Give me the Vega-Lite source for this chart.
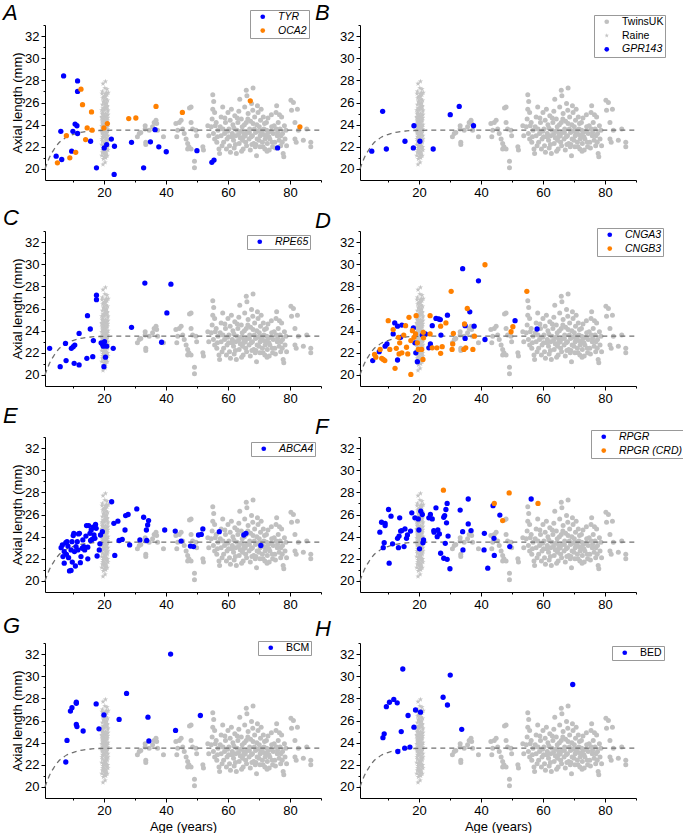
{
"$schema":"https://vega.github.io/schema/vega-lite/v6.json",
"background":"white",
"padding":{"left":3,"top":1,"right":0,"bottom":0},
"autosize":{"type":"pad"},
"datasets":{
"twins":[{"a":30.8,"l":22.9},{"a":31.4,"l":23.2},{"a":31.9,"l":23.3},{"a":33.3,"l":23.9},{"a":33.3,"l":23.6},{"a":33.5,"l":22.4},{"a":33.5,"l":22.2},{"a":34.6,"l":23.5},{"a":35.7,"l":23.8},{"a":36.2,"l":24.2},{"a":36.8,"l":24.4},{"a":37.0,"l":24.1},{"a":37.3,"l":23.5},{"a":39.2,"l":22.9},
{"a":43.2,"l":24.1},{"a":43.8,"l":23.5},{"a":43.5,"l":22.9},{"a":44.3,"l":24.2},{"a":44.9,"l":24.4},{"a":45.4,"l":23.6},{"a":45.9,"l":23.2},{"a":46.5,"l":22.7},{"a":47.0,"l":22.3},{"a":47.4,"l":22.0},{"a":47.6,"l":25.5},{"a":48.1,"l":25.6},{"a":48.1,"l":24.2},{"a":48.6,"l":23.6},{"a":48.1,"l":21.8},{"a":47.0,"l":21.8},{"a":49.2,"l":20.7},{"a":49.2,"l":20.1},{"a":49.7,"l":23.5},{"a":49.9,"l":23.0},
{"a":51.9,"l":22.0},{"a":52.1,"l":21.7},{"a":53.5,"l":23.9},{"a":53.8,"l":23.0},{"a":54.6,"l":23.8},{"a":54.9,"l":24.5},{"a":55.1,"l":25.4},{"a":55.1,"l":26.7},{"a":55.4,"l":26.1},{"a":55.7,"l":25.1},{"a":55.7,"l":22.7},{"a":56.2,"l":24.2},{"a":56.4,"l":22.4},{"a":56.8,"l":23.5},{"a":57.1,"l":21.8},{"a":57.3,"l":21.4},{"a":57.8,"l":24.7},{"a":57.8,"l":23.0},{"a":58.4,"l":23.6},{"a":58.6,"l":22.4},{"a":58.9,"l":23.2},{"a":59.2,"l":24.2},{"a":59.5,"l":21.8},{"a":59.7,"l":22.7},
{"a":60.0,"l":25.1},{"a":60.3,"l":23.6},{"a":60.5,"l":22.1},{"a":60.8,"l":21.5},{"a":61.1,"l":25.4},{"a":61.4,"l":23.2},{"a":61.6,"l":24.0},{"a":61.8,"l":22.6},{"a":62.2,"l":24.8},{"a":62.5,"l":23.0},{"a":62.7,"l":21.4},{"a":62.9,"l":23.5},{"a":63.2,"l":24.2},{"a":63.6,"l":22.3},{"a":63.8,"l":26.3},{"a":64.0,"l":22.8},{"a":64.3,"l":24.5},{"a":64.6,"l":23.8},{"a":64.9,"l":21.8},{"a":65.1,"l":23.2},{"a":65.4,"l":25.6},{"a":65.7,"l":22.4},{"a":65.9,"l":27.1},{"a":65.9,"l":24.2},{"a":66.2,"l":23.3},{"a":66.5,"l":25.0},{"a":66.8,"l":22.7},{"a":67.0,"l":23.6},{"a":67.2,"l":21.7},{"a":67.6,"l":25.9},{"a":67.9,"l":23.0},{"a":68.1,"l":27.3},{"a":68.1,"l":24.1},{"a":68.3,"l":22.3},{"a":68.6,"l":24.7},{"a":68.9,"l":23.3},{"a":69.2,"l":21.2},{"a":69.4,"l":22.7},{"a":69.7,"l":25.1},{"a":70.1,"l":23.8},{"a":70.3,"l":22.0},{"a":70.5,"l":24.4},
{"a":70.8,"l":23.2},{"a":71.1,"l":22.4},{"a":71.4,"l":24.7},{"a":71.6,"l":23.6},{"a":71.9,"l":21.8},{"a":72.2,"l":23.0},{"a":72.4,"l":24.2},{"a":72.7,"l":22.3},{"a":73.0,"l":23.3},{"a":73.3,"l":21.7},{"a":73.5,"l":22.7},{"a":74.1,"l":23.8},{"a":74.4,"l":22.0},{"a":74.6,"l":23.2},{"a":75.1,"l":22.4},{"a":75.5,"l":25.1},{"a":75.7,"l":25.7},{"a":75.9,"l":23.0},{"a":76.2,"l":24.2},{"a":76.5,"l":22.6},{"a":76.8,"l":23.6},{"a":77.0,"l":22.1},{"a":77.3,"l":24.7},{"a":77.6,"l":23.2},{"a":77.8,"l":21.4},{"a":78.0,"l":21.1},{"a":78.4,"l":22.7},{"a":78.7,"l":23.5},{"a":78.9,"l":22.1},
{"a":80.3,"l":26.2},{"a":81.1,"l":26.0},{"a":80.5,"l":25.3},{"a":81.6,"l":24.2},{"a":81.6,"l":22.7},{"a":82.0,"l":22.4},{"a":82.4,"l":25.4},{"a":82.7,"l":23.5},{"a":84.3,"l":22.6},{"a":85.4,"l":23.6},{"a":86.7,"l":22.4},{"a":86.7,"l":22.0},
{"a":55.3,"l":23.2},{"a":55.9,"l":23.9},{"a":56.6,"l":22.9},{"a":57.5,"l":23.8},{"a":58.1,"l":22.1},{"a":59.0,"l":24.6},{"a":59.9,"l":23.4},{"a":60.7,"l":24.4},{"a":61.2,"l":22.9},{"a":61.9,"l":23.7},{"a":62.4,"l":22.2},{"a":63.0,"l":24.6},{"a":63.4,"l":23.1},{"a":64.2,"l":23.4},{"a":64.7,"l":22.6},{"a":65.3,"l":24.0},{"a":65.6,"l":23.0},{"a":66.0,"l":22.1},{"a":66.4,"l":24.5},{"a":66.9,"l":23.3},{"a":67.3,"l":24.3},{"a":67.5,"l":22.9},{"a":68.0,"l":25.3},{"a":68.5,"l":23.6},{"a":69.0,"l":22.2},{"a":69.3,"l":24.0},{"a":69.8,"l":23.4},{"a":70.0,"l":22.6},{"a":70.7,"l":25.4},{"a":71.0,"l":23.5},{"a":71.3,"l":22.0},{"a":71.8,"l":24.1},{"a":72.0,"l":22.7},{"a":72.5,"l":23.5},{"a":72.9,"l":24.6},{"a":73.2,"l":22.9},{"a":73.8,"l":23.4},{"a":74.3,"l":22.4},{"a":74.9,"l":23.9},{"a":75.3,"l":21.9},{"a":76.0,"l":23.3},{"a":76.6,"l":24.9},{"a":77.1,"l":23.0},{"a":77.5,"l":22.4},{"a":78.2,"l":23.9},{"a":58.3,"l":25.6},{"a":62.0,"l":21.9},{"a":66.1,"l":26.6},{"a":69.5,"l":25.7},{"a":72.6,"l":21.6},{"a":74.0,"l":24.9},{"a":60.2,"l":22.9},{"a":63.5,"l":25.2},{"a":67.7,"l":22.2},{"a":70.4,"l":23.0},{"a":75.6,"l":23.6},{"a":71.5,"l":23.1},{"a":65.0,"l":22.9},{"a":64.4,"l":21.6},{"a":68.8,"l":22.0}],
"raine":[{"a":19.3,"l":23.5},{"a":19.6,"l":24.1},{"a":19.9,"l":22.8},{"a":20.2,"l":23.9},{"a":20.5,"l":25.0},{"a":20.8,"l":23.2},{"a":21.1,"l":24.4},{"a":19.5,"l":22.5},{"a":19.8,"l":23.7},{"a":20.1,"l":24.8},{"a":20.4,"l":22.2},{"a":20.7,"l":23.4},{"a":21.0,"l":25.6},{"a":21.3,"l":23.0},
{"a":19.4,"l":24.6},{"a":19.7,"l":21.9},{"a":20.0,"l":23.1},{"a":20.3,"l":24.3},{"a":20.6,"l":22.6},{"a":20.9,"l":24.0},{"a":21.2,"l":23.6},{"a":19.3,"l":25.3},{"a":19.6,"l":22.9},{"a":19.9,"l":24.5},{"a":20.2,"l":21.6},{"a":20.5,"l":23.8},{"a":20.8,"l":25.9},{"a":21.1,"l":22.4},
{"a":19.5,"l":23.3},{"a":19.8,"l":26.1},{"a":20.1,"l":22.0},{"a":20.4,"l":24.2},{"a":20.7,"l":21.3},{"a":21.0,"l":23.5},{"a":21.3,"l":24.9},{"a":19.4,"l":22.7},{"a":19.7,"l":25.5},{"a":20.0,"l":23.9},{"a":20.3,"l":22.3},{"a":20.6,"l":24.7},{"a":20.9,"l":21.8},{"a":21.2,"l":25.2},
{"a":19.3,"l":21.2},{"a":19.6,"l":23.6},{"a":19.9,"l":26.5},{"a":20.2,"l":22.9},{"a":20.5,"l":24.1},{"a":20.8,"l":21.5},{"a":21.1,"l":23.8},{"a":19.5,"l":24.4},{"a":19.8,"l":22.1},{"a":20.1,"l":25.4},{"a":20.4,"l":23.0},{"a":20.7,"l":26.3},{"a":21.0,"l":22.6},{"a":21.3,"l":24.0},
{"a":19.4,"l":26.8},{"a":19.7,"l":20.4},{"a":20.0,"l":24.6},{"a":20.3,"l":25.8},{"a":20.6,"l":21.0},{"a":20.9,"l":23.3},{"a":21.2,"l":22.0},{"a":19.3,"l":23.9},{"a":19.6,"l":25.1},{"a":19.9,"l":21.4},{"a":20.2,"l":26.6},{"a":20.5,"l":22.3},{"a":20.8,"l":24.8},{"a":21.1,"l":25.7},
{"a":19.5,"l":27.0},{"a":19.8,"l":24.0},{"a":20.1,"l":21.1},{"a":20.4,"l":25.9},{"a":20.7,"l":22.8},{"a":21.0,"l":24.3},{"a":21.3,"l":21.7},{"a":19.4,"l":23.2},{"a":19.7,"l":24.9},{"a":20.0,"l":22.4},{"a":20.3,"l":27.3},{"a":20.6,"l":23.7},{"a":20.9,"l":26.0},{"a":21.2,"l":23.4},
{"a":19.3,"l":22.2},{"a":19.6,"l":26.4},{"a":19.9,"l":23.4},{"a":20.2,"l":24.5},{"a":20.5,"l":21.9},{"a":20.8,"l":26.9},{"a":21.1,"l":21.2},{"a":19.5,"l":25.8},{"a":19.8,"l":23.0},{"a":20.1,"l":26.2},{"a":20.4,"l":21.5},{"a":20.7,"l":24.5},{"a":21.0,"l":26.7},{"a":21.3,"l":22.7},
{"a":19.4,"l":24.3},{"a":19.7,"l":27.7},{"a":20.0,"l":25.3},{"a":20.3,"l":23.5},{"a":20.6,"l":25.6},{"a":20.9,"l":22.5},{"a":21.2,"l":24.6},{"a":19.6,"l":21.7},{"a":19.9,"l":25.0},{"a":20.2,"l":23.3},{"a":20.5,"l":27.9},{"a":20.8,"l":22.1},{"a":21.1,"l":24.9},{"a":21.4,"l":26.9},
{"a":21.0,"l":27.2},{"a":19.8,"l":20.9},{"a":20.4,"l":20.6},{"a":19.5,"l":21.5},{"a":20.0,"l":26.0},{"a":20.6,"l":24.4},{"a":20.3,"l":21.3},{"a":19.9,"l":24.2},{"a":20.7,"l":23.1},{"a":20.1,"l":23.6},{"a":19.7,"l":23.8},{"a":21.2,"l":26.2},{"a":20.9,"l":25.4},{"a":19.4,"l":25.0},
{"a":20.5,"l":26.5},{"a":19.6,"l":24.7},{"a":20.8,"l":23.6},{"a":20.2,"l":25.5},{"a":19.3,"l":24.7},{"a":21.3,"l":25.3},{"a":20.0,"l":21.7},{"a":20.4,"l":26.8}],
"curve":[{"a":1,"l":20.0},{"a":2,"l":20.75},{"a":3,"l":21.35},{"a":4,"l":21.8},{"a":5,"l":22.2},{"a":6,"l":22.5},{"a":7,"l":22.7},{"a":8,"l":22.88},{"a":9,"l":23.0},{"a":10,"l":23.1},{"a":12,"l":23.27},{"a":14,"l":23.37},{"a":16,"l":23.43},{"a":18,"l":23.47},{"a":21,"l":23.49},{"a":25,"l":23.5},{"a":90,"l":23.5}]
},
"columns":2,
"spacing":{"row":51,"column":39},
"bounds":"flush",
"resolve":{"scale":{"color":"independent","shape":"independent"}},
"concat":[
{"width":276,"height":155,"title":{"text":"A","dx":-42,"offset":-15},
"encoding":{"x":{"field":"a","type":"quantitative","scale":{"domain":[1,90],"nice":false,"zero":false},"axis":{"values":[10,20,30,40,50,60,70,80,90],"labelExpr":"datum.value % 20 === 0 ? datum.label : ''","tickSize":{"condition":{"test":"datum.value % 20 !== 0","value":2},"value":4},"title":null}},
"y":{"field":"l","type":"quantitative","scale":{"domain":[19,33],"nice":false,"zero":false},"axis":{"values":[20,21,22,23,24,25,26,27,28,29,30,31,32,33],"labelExpr":"datum.value % 2 === 0 ? datum.label : ''","tickSize":{"condition":{"test":"datum.value % 2 === 1","value":2},"value":4},"title":"Axial length (mm)"}}},
"layer":[
{"data":{"name":"twins"},"mark":{"type":"point","filled":true,"size":25,"opacity":1,"color":"#C0C0C0"}},
{"data":{"name":"raine"},"mark":{"type":"point","filled":true,"size":30,"opacity":1,"color":"#C4C4C4","shape":"M0,-1L0.235,-0.324L0.951,-0.309L0.38,0.124L0.588,0.809L0,0.4L-0.588,0.809L-0.38,0.124L-0.951,-0.309L-0.235,-0.324Z"}},
{"data":{"name":"curve"},"mark":{"type":"line","color":"#707070","strokeDash":[5,4],"strokeWidth":1.3,"interpolate":"monotone"},"encoding":{}},
{"data":{"values":[{"a":7.0,"l":28.4,"g":"TYR"},{"a":11.5,"l":27.95,"g":"TYR"},{"a":11.5,"l":27.0,"g":"TYR"},{"a":4.6,"l":21.15,"g":"TYR"},{"a":6.4,"l":20.85,"g":"TYR"},{"a":6.1,"l":23.4,"g":"TYR"},{"a":9.6,"l":21.6,"g":"TYR"},{"a":10.0,"l":23.4,"g":"TYR"},{"a":10.7,"l":24.05,"g":"TYR"},{"a":11.3,"l":23.9,"g":"TYR"},{"a":11.5,"l":23.2,"g":"TYR"},{"a":15.7,"l":22.5,"g":"TYR"},{"a":17.6,"l":20.1,"g":"TYR"},{"a":20.1,"l":21.9,"g":"TYR"},{"a":20.9,"l":22.2,"g":"TYR"},{"a":22.4,"l":22.7,"g":"TYR"},{"a":23.4,"l":22.05,"g":"TYR"},{"a":23.3,"l":19.5,"g":"TYR"},{"a":28.9,"l":22.4,"g":"TYR"},{"a":32.8,"l":20.1,"g":"TYR"},{"a":35.0,"l":22.45,"g":"TYR"},{"a":36.5,"l":23.55,"g":"TYR"},{"a":37.7,"l":22.0,"g":"TYR"},{"a":40.1,"l":21.55,"g":"TYR"},{"a":50.0,"l":21.65,"g":"TYR"},{"a":54.8,"l":20.6,"g":"TYR"},{"a":55.5,"l":20.8,"g":"TYR"},{"a":76.0,"l":21.9,"g":"TYR"},
{"a":5.0,"l":20.55,"g":"OCA2"},{"a":7.9,"l":23.0,"g":"OCA2"},{"a":9.0,"l":21.0,"g":"OCA2"},{"a":10.9,"l":21.5,"g":"OCA2"},{"a":12.6,"l":27.2,"g":"OCA2"},{"a":13.1,"l":25.8,"g":"OCA2"},{"a":14.1,"l":22.65,"g":"OCA2"},{"a":14.6,"l":23.7,"g":"OCA2"},{"a":16.0,"l":25.15,"g":"OCA2"},{"a":16.2,"l":23.5,"g":"OCA2"},{"a":20.0,"l":23.7,"g":"OCA2"},{"a":21.1,"l":24.1,"g":"OCA2"},{"a":28.0,"l":24.55,"g":"OCA2"},{"a":30.3,"l":24.6,"g":"OCA2"},{"a":36.8,"l":25.65,"g":"OCA2"},{"a":45.3,"l":25.1,"g":"OCA2"},{"a":67.2,"l":26.15,"g":"OCA2"},{"a":83.2,"l":23.8,"g":"OCA2"}]},
"mark":{"type":"point","filled":true,"size":28,"opacity":1},
"encoding":{"color":{"field":"g","type":"nominal","title":null,"scale":{"domain":["TYR","OCA2"],"range":["#0000FF","#FF8000"]},"legend":{"orient":"none","legendX":205,"legendY":-15}}}}
]},
{"width":276,"height":155,"title":{"text":"B","dx":-45,"offset":-10},
"encoding":{"x":{"field":"a","type":"quantitative","scale":{"domain":[1,90],"nice":false,"zero":false},"axis":{"values":[10,20,30,40,50,60,70,80,90],"labelExpr":"datum.value % 20 === 0 ? datum.label : ''","tickSize":{"condition":{"test":"datum.value % 20 !== 0","value":2},"value":4},"title":null}},
"y":{"field":"l","type":"quantitative","scale":{"domain":[19,33],"nice":false,"zero":false},"axis":{"values":[20,21,22,23,24,25,26,27,28,29,30,31,32,33],"labelExpr":"datum.value % 2 === 0 ? datum.label : ''","tickSize":{"condition":{"test":"datum.value % 2 === 1","value":2},"value":4},"title":null}}},
"layer":[
{"data":{"name":"twins"},"mark":{"type":"point","filled":true,"size":25,"opacity":1},"encoding":{"color":{"datum":"TwinsUK","type":"nominal","title":null,"scale":{"domain":["TwinsUK","Raine","GPR143"],"range":["#C0C0C0","#C4C4C4","#0000FF"]},"legend":{"orient":"none","legendX":234,"legendY":-10,"labelFontStyle":{"expr":"datum.value === 'GPR143' ? 'italic' : 'normal'"}}},"shape":{"datum":"TwinsUK","type":"nominal","title":null,"scale":{"domain":["TwinsUK","Raine","GPR143"],"range":["circle","M0,-1L0.235,-0.324L0.951,-0.309L0.38,0.124L0.588,0.809L0,0.4L-0.588,0.809L-0.38,0.124L-0.951,-0.309L-0.235,-0.324Z","circle"]},"legend":{"orient":"none","legendX":234,"legendY":-10,"labelFontStyle":{"expr":"datum.value === 'GPR143' ? 'italic' : 'normal'"}}}}},
{"data":{"name":"raine"},"mark":{"type":"point","filled":true,"size":30,"opacity":1},"encoding":{"color":{"datum":"Raine","type":"nominal"},"shape":{"datum":"Raine","type":"nominal"}}},
{"data":{"name":"curve"},"mark":{"type":"line","color":"#707070","strokeDash":[5,4],"strokeWidth":1.3,"interpolate":"monotone"},"encoding":{}},
{"data":{"values":[{"a":4.8,"l":21.6,"g":"GPR143"},{"a":8.3,"l":25.2,"g":"GPR143"},{"a":9.5,"l":21.8,"g":"GPR143"},{"a":15.5,"l":22.5,"g":"GPR143"},{"a":18.2,"l":21.9,"g":"GPR143"},{"a":18.4,"l":23.9,"g":"GPR143"},{"a":20.3,"l":22.5,"g":"GPR143"},{"a":24.6,"l":21.8,"g":"GPR143"},{"a":30.1,"l":24.9,"g":"GPR143"},{"a":33.0,"l":25.65,"g":"GPR143"},{"a":37.6,"l":23.9,"g":"GPR143"}]},
"mark":{"type":"point","filled":true,"size":28,"opacity":1},
"encoding":{"color":{"field":"g","type":"nominal"},"shape":{"field":"g","type":"nominal"}}}
]},
{"width":276,"height":155,"title":{"text":"C","dx":-42,"offset":-5},
"encoding":{"x":{"field":"a","type":"quantitative","scale":{"domain":[1,90],"nice":false,"zero":false},"axis":{"values":[10,20,30,40,50,60,70,80,90],"labelExpr":"datum.value % 20 === 0 ? datum.label : ''","tickSize":{"condition":{"test":"datum.value % 20 !== 0","value":2},"value":4},"title":null}},
"y":{"field":"l","type":"quantitative","scale":{"domain":[19,33],"nice":false,"zero":false},"axis":{"values":[20,21,22,23,24,25,26,27,28,29,30,31,32,33],"labelExpr":"datum.value % 2 === 0 ? datum.label : ''","tickSize":{"condition":{"test":"datum.value % 2 === 1","value":2},"value":4},"title":"Axial length (mm)"}}},
"layer":[
{"data":{"name":"twins"},"mark":{"type":"point","filled":true,"size":25,"opacity":1,"color":"#C0C0C0"}},
{"data":{"name":"raine"},"mark":{"type":"point","filled":true,"size":30,"opacity":1,"color":"#C4C4C4","shape":"M0,-1L0.235,-0.324L0.951,-0.309L0.38,0.124L0.588,0.809L0,0.4L-0.588,0.809L-0.38,0.124L-0.951,-0.309L-0.235,-0.324Z"}},
{"data":{"name":"curve"},"mark":{"type":"line","color":"#707070","strokeDash":[5,4],"strokeWidth":1.3,"interpolate":"monotone"},"encoding":{}},
{"data":{"values":[{"a":2.5,"l":22.4,"g":"RPE65"},{"a":5.9,"l":20.75,"g":"RPE65"},{"a":7.6,"l":22.85,"g":"RPE65"},{"a":7.8,"l":21.3,"g":"RPE65"},{"a":9.5,"l":22.4,"g":"RPE65"},{"a":10.1,"l":22.55,"g":"RPE65"},{"a":10.6,"l":22.7,"g":"RPE65"},{"a":10.4,"l":21.05,"g":"RPE65"},{"a":12.0,"l":20.9,"g":"RPE65"},{"a":12.0,"l":23.75,"g":"RPE65"},{"a":14.5,"l":21.5,"g":"RPE65"},{"a":14.7,"l":25.35,"g":"RPE65"},{"a":15.6,"l":24.15,"g":"RPE65"},{"a":16.4,"l":21.65,"g":"RPE65"},{"a":16.6,"l":23.1,"g":"RPE65"},{"a":17.6,"l":27.2,"g":"RPE65"},{"a":17.6,"l":26.8,"g":"RPE65"},{"a":19.1,"l":22.9,"g":"RPE65"},{"a":19.5,"l":22.8,"g":"RPE65"},{"a":19.8,"l":22.6,"g":"RPE65"},{"a":20.0,"l":20.75,"g":"RPE65"},{"a":20.2,"l":23.0,"g":"RPE65"},{"a":20.9,"l":22.6,"g":"RPE65"},{"a":20.5,"l":21.6,"g":"RPE65"},{"a":23.0,"l":22.4,"g":"RPE65"},{"a":28.9,"l":24.3,"g":"RPE65"},{"a":33.2,"l":28.3,"g":"RPE65"},{"a":38.6,"l":22.95,"g":"RPE65"},{"a":40.3,"l":25.6,"g":"RPE65"},{"a":41.6,"l":28.2,"g":"RPE65"}]},
"mark":{"type":"point","filled":true,"size":28,"opacity":1},
"encoding":{"color":{"field":"g","type":"nominal","title":null,"scale":{"domain":["RPE65"],"range":["#0000FF"]},"legend":{"orient":"none","legendX":202,"legendY":4}}}}
]},
{"width":276,"height":155,"title":{"text":"D","dx":-45,"offset":-8},
"encoding":{"x":{"field":"a","type":"quantitative","scale":{"domain":[1,90],"nice":false,"zero":false},"axis":{"values":[10,20,30,40,50,60,70,80,90],"labelExpr":"datum.value % 20 === 0 ? datum.label : ''","tickSize":{"condition":{"test":"datum.value % 20 !== 0","value":2},"value":4},"title":null}},
"y":{"field":"l","type":"quantitative","scale":{"domain":[19,33],"nice":false,"zero":false},"axis":{"values":[20,21,22,23,24,25,26,27,28,29,30,31,32,33],"labelExpr":"datum.value % 2 === 0 ? datum.label : ''","tickSize":{"condition":{"test":"datum.value % 2 === 1","value":2},"value":4},"title":null}}},
"layer":[
{"data":{"name":"twins"},"mark":{"type":"point","filled":true,"size":25,"opacity":1,"color":"#C0C0C0"}},
{"data":{"name":"raine"},"mark":{"type":"point","filled":true,"size":30,"opacity":1,"color":"#C4C4C4","shape":"M0,-1L0.235,-0.324L0.951,-0.309L0.38,0.124L0.588,0.809L0,0.4L-0.588,0.809L-0.38,0.124L-0.951,-0.309L-0.235,-0.324Z"}},
{"data":{"name":"curve"},"mark":{"type":"line","color":"#707070","strokeDash":[5,4],"strokeWidth":1.3,"interpolate":"monotone"},"encoding":{}},
{"data":{"values":[{"a":5.1,"l":21.3,"g":"CNGA3"},{"a":7.2,"l":22.1,"g":"CNGA3"},{"a":9.1,"l":22.6,"g":"CNGA3"},{"a":9.7,"l":22.8,"g":"CNGA3"},{"a":11.7,"l":23.7,"g":"CNGA3"},{"a":12.2,"l":24.7,"g":"CNGA3"},{"a":13.1,"l":24.4,"g":"CNGA3"},{"a":13.1,"l":21.35,"g":"CNGA3"},{"a":14.1,"l":23.4,"g":"CNGA3"},{"a":14.5,"l":24.5,"g":"CNGA3"},{"a":18.2,"l":24.25,"g":"CNGA3"},{"a":18.7,"l":22.9,"g":"CNGA3"},{"a":19.0,"l":22.0,"g":"CNGA3"},{"a":19.5,"l":21.2,"g":"CNGA3"},{"a":21.1,"l":23.6,"g":"CNGA3"},{"a":22.1,"l":23.7,"g":"CNGA3"},{"a":23.2,"l":22.45,"g":"CNGA3"},{"a":23.7,"l":22.8,"g":"CNGA3"},{"a":24.3,"l":24.45,"g":"CNGA3"},{"a":25.5,"l":25.1,"g":"CNGA3"},{"a":26.4,"l":25.05,"g":"CNGA3"},{"a":26.9,"l":25.0,"g":"CNGA3"},{"a":27.1,"l":23.6,"g":"CNGA3"},{"a":29.2,"l":25.4,"g":"CNGA3"},{"a":34.1,"l":29.6,"g":"CNGA3"},{"a":34.9,"l":24.45,"g":"CNGA3"},{"a":34.9,"l":23.3,"g":"CNGA3"},{"a":36.4,"l":25.7,"g":"CNGA3"},{"a":37.8,"l":24.4,"g":"CNGA3"},{"a":39.2,"l":28.5,"g":"CNGA3"},{"a":41.3,"l":23.2,"g":"CNGA3"},{"a":51.0,"l":24.9,"g":"CNGA3"},{"a":58.1,"l":24.15,"g":"CNGA3"},
{"a":5.7,"l":21.85,"g":"CNGB3"},{"a":6.1,"l":21.6,"g":"CNGB3"},{"a":7.5,"l":22.3,"g":"CNGB3"},{"a":8.0,"l":21.5,"g":"CNGB3"},{"a":8.5,"l":21.4,"g":"CNGB3"},{"a":9.0,"l":21.3,"g":"CNGB3"},{"a":10.1,"l":24.9,"g":"CNGB3"},{"a":10.6,"l":22.3,"g":"CNGB3"},{"a":11.7,"l":24.1,"g":"CNGB3"},{"a":12.3,"l":20.6,"g":"CNGB3"},{"a":12.7,"l":22.4,"g":"CNGB3"},{"a":13.4,"l":23.4,"g":"CNGB3"},{"a":13.6,"l":21.9,"g":"CNGB3"},{"a":13.8,"l":22.9,"g":"CNGB3"},{"a":14.5,"l":22.0,"g":"CNGB3"},{"a":15.1,"l":23.6,"g":"CNGB3"},{"a":15.7,"l":24.45,"g":"CNGB3"},{"a":16.0,"l":22.5,"g":"CNGB3"},{"a":16.4,"l":21.9,"g":"CNGB3"},{"a":16.8,"l":25.2,"g":"CNGB3"},{"a":17.4,"l":20.05,"g":"CNGB3"},{"a":17.4,"l":23.1,"g":"CNGB3"},{"a":17.9,"l":24.0,"g":"CNGB3"},{"a":18.4,"l":23.4,"g":"CNGB3"},{"a":18.9,"l":23.7,"g":"CNGB3"},{"a":19.1,"l":25.35,"g":"CNGB3"},{"a":19.5,"l":22.9,"g":"CNGB3"},{"a":19.8,"l":22.3,"g":"CNGB3"},{"a":20.9,"l":22.3,"g":"CNGB3"},{"a":21.3,"l":21.4,"g":"CNGB3"},{"a":21.4,"l":23.85,"g":"CNGB3"},{"a":21.5,"l":23.35,"g":"CNGB3"},{"a":23.6,"l":25.35,"g":"CNGB3"},{"a":23.6,"l":23.7,"g":"CNGB3"},{"a":24.3,"l":22.45,"g":"CNGB3"},{"a":25.8,"l":22.45,"g":"CNGB3"},{"a":27.0,"l":24.4,"g":"CNGB3"},{"a":27.0,"l":21.95,"g":"CNGB3"},{"a":27.5,"l":22.55,"g":"CNGB3"},{"a":28.7,"l":24.7,"g":"CNGB3"},{"a":30.4,"l":27.55,"g":"CNGB3"},{"a":30.7,"l":22.3,"g":"CNGB3"},{"a":30.9,"l":22.8,"g":"CNGB3"},{"a":31.1,"l":23.75,"g":"CNGB3"},{"a":34.7,"l":24.6,"g":"CNGB3"},{"a":34.5,"l":22.3,"g":"CNGB3"},{"a":35.1,"l":22.45,"g":"CNGB3"},{"a":35.6,"l":26.0,"g":"CNGB3"},{"a":37.4,"l":22.3,"g":"CNGB3"},{"a":37.9,"l":23.5,"g":"CNGB3"},{"a":41.3,"l":29.95,"g":"CNGB3"},{"a":49.7,"l":23.9,"g":"CNGB3"},{"a":50.3,"l":24.35,"g":"CNGB3"},{"a":54.8,"l":27.55,"g":"CNGB3"}]},
"mark":{"type":"point","filled":true,"size":28,"opacity":1},
"encoding":{"color":{"field":"g","type":"nominal","title":null,"scale":{"domain":["CNGA3","CNGB3"],"range":["#0000FF","#FF8000"]},"legend":{"orient":"none","legendX":237,"legendY":-3}}}}
]},
{"width":276,"height":155,"title":{"text":"E","dx":-42,"offset":3},
"encoding":{"x":{"field":"a","type":"quantitative","scale":{"domain":[1,90],"nice":false,"zero":false},"axis":{"values":[10,20,30,40,50,60,70,80,90],"labelExpr":"datum.value % 20 === 0 ? datum.label : ''","tickSize":{"condition":{"test":"datum.value % 20 !== 0","value":2},"value":4},"title":null}},
"y":{"field":"l","type":"quantitative","scale":{"domain":[19,33],"nice":false,"zero":false},"axis":{"values":[20,21,22,23,24,25,26,27,28,29,30,31,32,33],"labelExpr":"datum.value % 2 === 0 ? datum.label : ''","tickSize":{"condition":{"test":"datum.value % 2 === 1","value":2},"value":4},"title":"Axial length (mm)"}}},
"layer":[
{"data":{"name":"twins"},"mark":{"type":"point","filled":true,"size":25,"opacity":1,"color":"#C0C0C0"}},
{"data":{"name":"raine"},"mark":{"type":"point","filled":true,"size":30,"opacity":1,"color":"#C4C4C4","shape":"M0,-1L0.235,-0.324L0.951,-0.309L0.38,0.124L0.588,0.809L0,0.4L-0.588,0.809L-0.38,0.124L-0.951,-0.309L-0.235,-0.324Z"}},
{"data":{"name":"curve"},"mark":{"type":"line","color":"#707070","strokeDash":[5,4],"strokeWidth":1.3,"interpolate":"monotone"},"encoding":{}},
{"data":{"values":[{"a":6.2,"l":23.0,"g":"ABCA4"},{"a":6.6,"l":23.25,"g":"ABCA4"},{"a":6.8,"l":22.2,"g":"ABCA4"},{"a":7.2,"l":21.6,"g":"ABCA4"},{"a":7.2,"l":22.65,"g":"ABCA4"},{"a":7.7,"l":23.45,"g":"ABCA4"},{"a":8.1,"l":23.55,"g":"ABCA4"},{"a":7.9,"l":22.4,"g":"ABCA4"},{"a":8.4,"l":23.15,"g":"ABCA4"},{"a":8.6,"l":22.1,"g":"ABCA4"},{"a":8.9,"l":20.9,"g":"ABCA4"},{"a":9.4,"l":20.95,"g":"ABCA4"},{"a":9.4,"l":22.8,"g":"ABCA4"},{"a":9.7,"l":23.55,"g":"ABCA4"},{"a":9.8,"l":21.7,"g":"ABCA4"},{"a":10.1,"l":24.1,"g":"ABCA4"},{"a":10.3,"l":24.3,"g":"ABCA4"},{"a":10.5,"l":22.65,"g":"ABCA4"},{"a":10.8,"l":21.35,"g":"ABCA4"},{"a":11.0,"l":23.1,"g":"ABCA4"},{"a":11.4,"l":23.55,"g":"ABCA4"},{"a":11.6,"l":22.8,"g":"ABCA4"},{"a":11.8,"l":24.25,"g":"ABCA4"},{"a":12.1,"l":24.3,"g":"ABCA4"},{"a":12.4,"l":21.65,"g":"ABCA4"},{"a":12.6,"l":22.2,"g":"ABCA4"},{"a":13.0,"l":22.95,"g":"ABCA4"},{"a":13.2,"l":23.7,"g":"ABCA4"},{"a":13.5,"l":23.1,"g":"ABCA4"},{"a":13.8,"l":22.8,"g":"ABCA4"},{"a":14.2,"l":24.05,"g":"ABCA4"},{"a":14.4,"l":25.0,"g":"ABCA4"},{"a":14.8,"l":22.0,"g":"ABCA4"},{"a":14.8,"l":23.05,"g":"ABCA4"},{"a":15.1,"l":25.0,"g":"ABCA4"},{"a":15.5,"l":24.3,"g":"ABCA4"},{"a":15.7,"l":23.65,"g":"ABCA4"},{"a":15.9,"l":24.6,"g":"ABCA4"},{"a":16.2,"l":23.75,"g":"ABCA4"},{"a":16.5,"l":24.85,"g":"ABCA4"},{"a":16.8,"l":24.15,"g":"ABCA4"},{"a":17.1,"l":23.85,"g":"ABCA4"},{"a":17.3,"l":25.1,"g":"ABCA4"},{"a":17.5,"l":24.75,"g":"ABCA4"},{"a":17.8,"l":22.25,"g":"ABCA4"},{"a":18.5,"l":22.8,"g":"ABCA4"},{"a":18.7,"l":23.35,"g":"ABCA4"},{"a":18.9,"l":24.15,"g":"ABCA4"},{"a":19.5,"l":24.45,"g":"ABCA4"},{"a":22.5,"l":27.15,"g":"ABCA4"},{"a":23.5,"l":22.3,"g":"ABCA4"},{"a":23.2,"l":25.2,"g":"ABCA4"},{"a":24.5,"l":25.4,"g":"ABCA4"},{"a":24.9,"l":23.65,"g":"ABCA4"},{"a":25.9,"l":23.75,"g":"ABCA4"},{"a":26.8,"l":24.6,"g":"ABCA4"},{"a":27.0,"l":25.9,"g":"ABCA4"},{"a":27.8,"l":26.0,"g":"ABCA4"},{"a":28.3,"l":23.25,"g":"ABCA4"},{"a":30.6,"l":26.5,"g":"ABCA4"},{"a":31.6,"l":23.7,"g":"ABCA4"},{"a":32.8,"l":25.75,"g":"ABCA4"},{"a":33.8,"l":23.65,"g":"ABCA4"},{"a":33.7,"l":24.6,"g":"ABCA4"},{"a":34.1,"l":25.05,"g":"ABCA4"},{"a":34.4,"l":25.45,"g":"ABCA4"},{"a":39.6,"l":24.6,"g":"ABCA4"},{"a":43.0,"l":24.5,"g":"ABCA4"},{"a":44.9,"l":23.6,"g":"ABCA4"},{"a":47.9,"l":23.15,"g":"ABCA4"},{"a":48.9,"l":23.1,"g":"ABCA4"},{"a":50.5,"l":24.15,"g":"ABCA4"},{"a":51.4,"l":24.2,"g":"ABCA4"},{"a":51.9,"l":24.7,"g":"ABCA4"},{"a":57.2,"l":24.45,"g":"ABCA4"},{"a":65.1,"l":24.15,"g":"ABCA4"},{"a":65.8,"l":24.3,"g":"ABCA4"},{"a":70.6,"l":23.2,"g":"ABCA4"}]},
"mark":{"type":"point","filled":true,"size":28,"opacity":1},
"encoding":{"color":{"field":"g","type":"nominal","title":null,"scale":{"domain":["ABCA4"],"range":["#0000FF"]},"legend":{"orient":"none","legendX":206,"legendY":5}}}}
]},
{"width":276,"height":155,"title":{"text":"F","dx":-45,"offset":-9},
"encoding":{"x":{"field":"a","type":"quantitative","scale":{"domain":[1,90],"nice":false,"zero":false},"axis":{"values":[10,20,30,40,50,60,70,80,90],"labelExpr":"datum.value % 20 === 0 ? datum.label : ''","tickSize":{"condition":{"test":"datum.value % 20 !== 0","value":2},"value":4},"title":null}},
"y":{"field":"l","type":"quantitative","scale":{"domain":[19,33],"nice":false,"zero":false},"axis":{"values":[20,21,22,23,24,25,26,27,28,29,30,31,32,33],"labelExpr":"datum.value % 2 === 0 ? datum.label : ''","tickSize":{"condition":{"test":"datum.value % 2 === 1","value":2},"value":4},"title":null}}},
"layer":[
{"data":{"name":"twins"},"mark":{"type":"point","filled":true,"size":25,"opacity":1,"color":"#C0C0C0"}},
{"data":{"name":"raine"},"mark":{"type":"point","filled":true,"size":30,"opacity":1,"color":"#C4C4C4","shape":"M0,-1L0.235,-0.324L0.951,-0.309L0.38,0.124L0.588,0.809L0,0.4L-0.588,0.809L-0.38,0.124L-0.951,-0.309L-0.235,-0.324Z"}},
{"data":{"name":"curve"},"mark":{"type":"line","color":"#707070","strokeDash":[5,4],"strokeWidth":1.3,"interpolate":"monotone"},"encoding":{}},
{"data":{"values":[{"a":7.4,"l":24.4,"g":"RPGR"},{"a":7.95,"l":25.3,"g":"RPGR"},{"a":9.1,"l":25.2,"g":"RPGR"},{"a":9.1,"l":25.0,"g":"RPGR"},{"a":8.8,"l":23.45,"g":"RPGR"},{"a":8.5,"l":23.0,"g":"RPGR"},{"a":10.2,"l":26.45,"g":"RPGR"},{"a":10.4,"l":21.6,"g":"RPGR"},{"a":11.0,"l":25.85,"g":"RPGR"},{"a":11.5,"l":23.35,"g":"RPGR"},{"a":13.1,"l":23.85,"g":"RPGR"},{"a":13.6,"l":24.05,"g":"RPGR"},{"a":13.8,"l":25.7,"g":"RPGR"},{"a":14.1,"l":24.5,"g":"RPGR"},{"a":14.5,"l":24.55,"g":"RPGR"},{"a":13.4,"l":23.0,"g":"RPGR"},{"a":15.2,"l":23.1,"g":"RPGR"},{"a":15.5,"l":24.7,"g":"RPGR"},{"a":16.0,"l":23.85,"g":"RPGR"},{"a":16.3,"l":24.15,"g":"RPGR"},{"a":17.3,"l":24.5,"g":"RPGR"},{"a":17.7,"l":26.15,"g":"RPGR"},{"a":18.7,"l":25.7,"g":"RPGR"},{"a":19.8,"l":25.6,"g":"RPGR"},{"a":20.0,"l":24.6,"g":"RPGR"},{"a":20.2,"l":22.9,"g":"RPGR"},{"a":20.6,"l":26.3,"g":"RPGR"},{"a":21.1,"l":26.0,"g":"RPGR"},{"a":21.3,"l":23.45,"g":"RPGR"},{"a":21.5,"l":23.7,"g":"RPGR"},{"a":23.2,"l":25.7,"g":"RPGR"},{"a":23.7,"l":26.0,"g":"RPGR"},{"a":24.3,"l":25.6,"g":"RPGR"},{"a":24.8,"l":24.55,"g":"RPGR"},{"a":24.9,"l":24.4,"g":"RPGR"},{"a":25.5,"l":26.6,"g":"RPGR"},{"a":25.9,"l":24.0,"g":"RPGR"},{"a":26.1,"l":24.6,"g":"RPGR"},{"a":26.6,"l":24.25,"g":"RPGR"},{"a":27.0,"l":22.5,"g":"RPGR"},{"a":28.0,"l":25.75,"g":"RPGR"},{"a":28.3,"l":25.9,"g":"RPGR"},{"a":28.0,"l":22.05,"g":"RPGR"},{"a":28.5,"l":23.4,"g":"RPGR"},{"a":28.7,"l":26.45,"g":"RPGR"},{"a":29.1,"l":27.0,"g":"RPGR"},{"a":28.9,"l":25.25,"g":"RPGR"},{"a":29.1,"l":21.95,"g":"RPGR"},{"a":29.4,"l":24.05,"g":"RPGR"},{"a":30.0,"l":21.1,"g":"RPGR"},{"a":33.3,"l":26.4,"g":"RPGR"},{"a":34.1,"l":24.45,"g":"RPGR"},{"a":34.2,"l":22.8,"g":"RPGR"},{"a":35.9,"l":27.4,"g":"RPGR"},{"a":35.9,"l":25.15,"g":"RPGR"},{"a":36.8,"l":24.55,"g":"RPGR"},{"a":41.0,"l":22.8,"g":"RPGR"},{"a":41.1,"l":24.3,"g":"RPGR"},{"a":42.2,"l":21.15,"g":"RPGR"},{"a":43.9,"l":26.8,"g":"RPGR"},{"a":44.2,"l":23.85,"g":"RPGR"},{"a":44.3,"l":22.3,"g":"RPGR"},{"a":46.1,"l":25.95,"g":"RPGR"},{"a":49.3,"l":23.1,"g":"RPGR"},{"a":56.2,"l":27.4,"g":"RPGR"},
{"a":27.9,"l":28.2,"g":"RPGR (CRD)"},{"a":44.3,"l":27.0,"g":"RPGR (CRD)"},{"a":47.0,"l":25.45,"g":"RPGR (CRD)"},{"a":49.1,"l":27.95,"g":"RPGR (CRD)"},{"a":58.4,"l":27.0,"g":"RPGR (CRD)"}]},
"mark":{"type":"point","filled":true,"size":28,"opacity":1},
"encoding":{"color":{"field":"g","type":"nominal","title":null,"scale":{"domain":["RPGR","RPGR (CRD)"],"range":["#0000FF","#FF8000"]},"legend":{"orient":"none","legendX":231,"legendY":-7}}}}
]},
{"width":276,"height":155,"title":{"text":"G","dx":-42,"offset":-1},
"encoding":{"x":{"field":"a","type":"quantitative","scale":{"domain":[1,90],"nice":false,"zero":false},"axis":{"values":[10,20,30,40,50,60,70,80,90],"labelExpr":"datum.value % 20 === 0 ? datum.label : ''","tickSize":{"condition":{"test":"datum.value % 20 !== 0","value":2},"value":4},"title":"Age (years)"}},
"y":{"field":"l","type":"quantitative","scale":{"domain":[19,33],"nice":false,"zero":false},"axis":{"values":[20,21,22,23,24,25,26,27,28,29,30,31,32,33],"labelExpr":"datum.value % 2 === 0 ? datum.label : ''","tickSize":{"condition":{"test":"datum.value % 2 === 1","value":2},"value":4},"title":"Axial length (mm)"}}},
"layer":[
{"data":{"name":"twins"},"mark":{"type":"point","filled":true,"size":25,"opacity":1,"color":"#C0C0C0"}},
{"data":{"name":"raine"},"mark":{"type":"point","filled":true,"size":30,"opacity":1,"color":"#C4C4C4","shape":"M0,-1L0.235,-0.324L0.951,-0.309L0.38,0.124L0.588,0.809L0,0.4L-0.588,0.809L-0.38,0.124L-0.951,-0.309L-0.235,-0.324Z"}},
{"data":{"name":"curve"},"mark":{"type":"line","color":"#707070","strokeDash":[5,4],"strokeWidth":1.3,"interpolate":"monotone"},"encoding":{}},
{"data":{"values":[{"a":7.7,"l":22.25,"g":"BCM"},{"a":8.1,"l":24.2,"g":"BCM"},{"a":9.2,"l":26.85,"g":"BCM"},{"a":9.7,"l":27.15,"g":"BCM"},{"a":11.1,"l":27.65,"g":"BCM"},{"a":11.1,"l":27.55,"g":"BCM"},{"a":11.1,"l":25.65,"g":"BCM"},{"a":11.3,"l":25.45,"g":"BCM"},{"a":13.3,"l":25.05,"g":"BCM"},{"a":17.5,"l":27.5,"g":"BCM"},{"a":18.4,"l":25.25,"g":"BCM"},{"a":20.0,"l":26.5,"g":"BCM"},{"a":24.9,"l":26.1,"g":"BCM"},{"a":27.3,"l":28.45,"g":"BCM"},{"a":34.2,"l":26.3,"g":"BCM"},{"a":34.5,"l":24.15,"g":"BCM"},{"a":41.5,"l":32.0,"g":"BCM"},{"a":43.1,"l":25.1,"g":"BCM"},{"a":51.1,"l":26.45,"g":"BCM"}]},
"mark":{"type":"point","filled":true,"size":28,"opacity":1},
"encoding":{"color":{"field":"g","type":"nominal","title":null,"scale":{"domain":["BCM"],"range":["#0000FF"]},"legend":{"orient":"none","legendX":213,"legendY":-2,"labelFontStyle":"normal"}}}}
]},
{"width":276,"height":155,"title":{"text":"H","dx":-45,"offset":-4},
"encoding":{"x":{"field":"a","type":"quantitative","scale":{"domain":[1,90],"nice":false,"zero":false},"axis":{"values":[10,20,30,40,50,60,70,80,90],"labelExpr":"datum.value % 20 === 0 ? datum.label : ''","tickSize":{"condition":{"test":"datum.value % 20 !== 0","value":2},"value":4},"title":"Age (years)"}},
"y":{"field":"l","type":"quantitative","scale":{"domain":[19,33],"nice":false,"zero":false},"axis":{"values":[20,21,22,23,24,25,26,27,28,29,30,31,32,33],"labelExpr":"datum.value % 2 === 0 ? datum.label : ''","tickSize":{"condition":{"test":"datum.value % 2 === 1","value":2},"value":4},"title":null}}},
"layer":[
{"data":{"name":"twins"},"mark":{"type":"point","filled":true,"size":25,"opacity":1,"color":"#C0C0C0"}},
{"data":{"name":"raine"},"mark":{"type":"point","filled":true,"size":30,"opacity":1,"color":"#C4C4C4","shape":"M0,-1L0.235,-0.324L0.951,-0.309L0.38,0.124L0.588,0.809L0,0.4L-0.588,0.809L-0.38,0.124L-0.951,-0.309L-0.235,-0.324Z"}},
{"data":{"name":"curve"},"mark":{"type":"line","color":"#707070","strokeDash":[5,4],"strokeWidth":1.3,"interpolate":"monotone"},"encoding":{}},
{"data":{"values":[{"a":8.4,"l":24.45,"g":"BED"},{"a":8.8,"l":24.8,"g":"BED"},{"a":9.5,"l":27.25,"g":"BED"},{"a":10.5,"l":27.65,"g":"BED"},{"a":11.9,"l":27.9,"g":"BED"},{"a":13.0,"l":27.6,"g":"BED"},{"a":13.2,"l":23.2,"g":"BED"},{"a":14.3,"l":25.0,"g":"BED"},{"a":14.8,"l":30.65,"g":"BED"},{"a":15.4,"l":23.5,"g":"BED"},{"a":16.5,"l":26.45,"g":"BED"},{"a":17.1,"l":23.6,"g":"BED"},{"a":18.4,"l":25.4,"g":"BED"},{"a":18.9,"l":26.95,"g":"BED"},{"a":20.5,"l":26.75,"g":"BED"},{"a":27.8,"l":28.1,"g":"BED"},{"a":29.2,"l":27.4,"g":"BED"},{"a":30.1,"l":30.1,"g":"BED"},{"a":33.8,"l":25.2,"g":"BED"},{"a":69.6,"l":29.25,"g":"BED"}]},
"mark":{"type":"point","filled":true,"size":28,"opacity":1},
"encoding":{"color":{"field":"g","type":"nominal","title":null,"scale":{"domain":["BED"],"range":["#0000FF"]},"legend":{"orient":"none","legendX":252,"legendY":3,"labelFontStyle":"normal"}}}}
]}
],
"config":{
"view":{"stroke":null},
"font":"Liberation Sans",
"axis":{"domainColor":"#000","tickColor":"#000","labelColor":"#000","labelFont":"Liberation Sans","labelFontSize":13,"titleFont":"Liberation Sans","titleFontSize":13,"titleFontWeight":"normal","titleColor":"#000","grid":false,"labelPadding":2,"labelOverlap":false,"domainWidth":1,"tickWidth":1},
"axisX":{"titlePadding":3},
"axisY":{"titlePadding":0},
"legend":{"strokeColor":"#999","fillColor":"#fff","padding":1.5,"labelFont":"Liberation Sans","labelFontSize":10.5,"labelColor":"#000","symbolSize":22,"symbolType":"circle","rowPadding":2.8,"symbolOffset":6,"labelOffset":10,"labelFontStyle":"italic","symbolStrokeWidth":0},
"title":{"anchor":"start","frame":"group","fontSize":22,"fontStyle":"italic","fontWeight":"normal","font":"Liberation Sans","color":"#000"}
}
}
